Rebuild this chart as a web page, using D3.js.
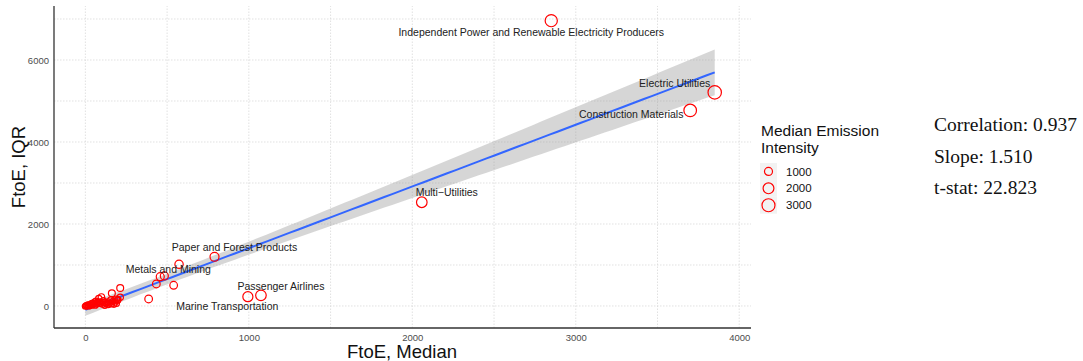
<!DOCTYPE html>
<html>
<head>
  <script src="https://d3js.org/d3.v7.min.js"></script>
  <style>
    body { margin: 0; background: #fff; }
    svg { display: block; font-family: "Liberation Sans", Arial, sans-serif; }
    .grid line { stroke: #d9d9d9; stroke-width: 0.8px; stroke-dasharray: 1.5 1.5; }
    .axis text { font-size: 9.5px; fill: #4d4d4d; }
    .axis path { stroke: #333; stroke-width: 1.3px; }
    .axis line { display: none; }
    .lab { font-size: 10.5px; fill: #222; text-anchor: middle; }
    .stat { font-family: "Liberation Serif", "DejaVu Serif", serif; font-size: 19.5px; fill: #111; }
  </style>
</head>
<body>
  <script>
    // FtoE median (x), FtoE IQR (y), median emission intensity (size)
    var ftoeMedian = [2850, 3850, 3700, 2058, 790, 573, 458, 483, 434, 540, 387, 994, 1074,
      213, 162, 213, 196, 180, 160, 139, 119, 98, 82, 58, 37, 17, 0,
      10, 25, 45, 65, 75, 90, 105, 120, 140, 150, 170, 190, 200, 30, 50, 70, 85, 110, 130, 60, 40, 20, 5, 15, 100, 155, 175, 190];
    var ftoeIQR = [6960, 5210, 4770, 2530, 1200, 1017, 715, 732, 537, 505, 171, 227, 260,
      439, 310, 210, 139, 98, 56, 32, 17, 220, 178, 98, 56, 17, -7,
      5, 30, 70, 120, 90, 60, 40, 80, 100, 70, 120, 60, 160, 10, 40, 50, 100, 130, 60, 20, 25, 0, 10, 30, 90, 150, 40, 170];
    var intensity = [2600, 3200, 2800, 1900, 1300, 1100, 1000, 1000, 900, 900, 900, 1700, 1900,
      700, 700, 600, 600, 600, 600, 500, 500, 600, 600, 500, 500, 500, 500,
      500, 500, 500, 500, 500, 500, 500, 500, 500, 500, 500, 500, 500, 500, 500, 500, 500, 500, 500, 500, 500, 500, 500, 500, 500, 500, 500, 500];

    // text labels: index into the arrays and pixel offset of the label from its point
    var labels = [
      { i: 0, name: "Independent Power and Renewable Electricity Producers", dx: -20, dy: 15 },
      { i: 1, name: "Electric Utilities", dx: -40, dy: -5 },
      { i: 2, name: "Construction Materials", dx: -59, dy: 7.5 },
      { i: 3, name: "Multi\u2212Utilities", dx: 25, dy: -6 },
      { i: 4, name: "Paper and Forest Products", dx: 20, dy: -6 },
      { i: 6, name: "Metals and Mining", dx: 8, dy: -3.4 },
      { i: 12, name: "Passenger Airlines", dx: 20, dy: -5 },
      { i: 11, name: "Marine Transportation", dx: -20.6, dy: 13.3 }
    ];

    var legendValues = [1000, 2000, 3000];
    var stats = ["Correlation: 0.937", "Slope: 1.510", "t-stat: 22.823"];
    var xTicks = [0, 1000, 2000, 3000, 4000];
    var yTicks = [0, 2000, 4000, 6000];

    var points = ftoeMedian.map(function(d, i) {
      return { x: d, y: ftoeIQR[i], s: intensity[i] };
    });

    var width = 1083, height = 361;
    var svg = d3.select("body").append("svg")
        .attr("width", width)
        .attr("height", height);

    var x = d3.scaleLinear().domain([-192, 4072]).range([54, 751]);
    var y = d3.scaleLinear().domain([-537, 7317]).range([328, 6]);
    var r = d3.scaleSqrt().domain([0, 3000]).range([0.585, 6.5]);

    // grid (major and minor look the same)
    var grid = svg.append("g").attr("class", "grid");
    grid.selectAll(".gx").data(d3.range(0, 4001, 500)).enter().append("line")
        .attr("x1", function(d) { return x(d); }).attr("x2", function(d) { return x(d); })
        .attr("y1", y.range()[0]).attr("y2", y.range()[1]);
    grid.selectAll(".gy").data(d3.range(0, 7001, 1000)).enter().append("line")
        .attr("y1", function(d) { return y(d); }).attr("y2", function(d) { return y(d); })
        .attr("x1", x.range()[0]).attr("x2", x.range()[1]);

    // linear fit with 95% band, like geom_smooth(method = "lm")
    var n = points.length;
    var xbar = d3.mean(points, function(d) { return d.x; });
    var ybar = d3.mean(points, function(d) { return d.y; });
    var sxx = d3.sum(points, function(d) { return (d.x - xbar) * (d.x - xbar); });
    var sxy = d3.sum(points, function(d) { return (d.x - xbar) * (d.y - ybar); });
    var slope = sxy / sxx, intercept = ybar - slope * xbar;
    var sse = d3.sum(points, function(d) { var e = d.y - intercept - slope * d.x; return e * e; });
    var sRes = Math.sqrt(sse / (n - 2)), tq = 1.99;
    var xmin = d3.min(ftoeMedian), xmax = d3.max(ftoeMedian);
    var fit = d3.range(0, 81).map(function(k) {
      var xv = xmin + (xmax - xmin) * k / 80;
      var se = sRes * Math.sqrt(1 / n + (xv - xbar) * (xv - xbar) / sxx);
      var yv = intercept + slope * xv;
      return { x: xv, y: yv, lo: yv - tq * se, hi: yv + tq * se };
    });

    svg.append("path").datum(fit)
        .attr("fill", "#999").attr("fill-opacity", 0.4)
        .attr("d", d3.area().x(function(d) { return x(d.x); })
          .y0(function(d) { return y(d.lo); }).y1(function(d) { return y(d.hi); }));
    svg.append("path").datum(fit)
        .attr("fill", "none").attr("stroke", "#3366FF").attr("stroke-width", 2)
        .attr("d", d3.line().x(function(d) { return x(d.x); }).y(function(d) { return y(d.y); }));

    svg.selectAll(".pt").data(points).enter().append("circle")
        .attr("class", "pt")
        .attr("cx", function(d) { return x(d.x); })
        .attr("cy", function(d) { return y(d.y); })
        .attr("r", function(d) { return r(d.s); })
        .attr("fill", "none").attr("stroke", "#ff0000").attr("stroke-width", 1.2);

    svg.selectAll(".lab").data(labels).enter().append("text")
        .attr("class", "lab")
        .attr("x", function(d) { return x(ftoeMedian[d.i]) + d.dx; })
        .attr("y", function(d) { return y(ftoeIQR[d.i]) + d.dy; })
        .text(function(d) { return d.name; });

    // axes
    var xAxis = d3.axisBottom(x).tickValues(xTicks).tickSize(0).tickPadding(6).tickFormat(d3.format("d"));
    var yAxis = d3.axisLeft(y).tickValues(yTicks).tickSize(0).tickPadding(5).tickFormat(d3.format("d"));
    svg.append("g").attr("class", "x axis")
        .attr("transform", "translate(0," + y.range()[0] + ")").call(xAxis);
    svg.append("g").attr("class", "y axis")
        .attr("transform", "translate(" + x.range()[0] + ",0)").call(yAxis);
    svg.selectAll(".axis path").attr("d", function() {
      return d3.select(this.parentNode).classed("x") ?
        "M" + x.range()[0] + ",0H" + x.range()[1] : "M0," + y.range()[0] + "V" + y.range()[1];
    });

    svg.append("text").attr("x", 402).attr("y", 358)
        .attr("text-anchor", "middle").attr("font-size", 18.5).attr("fill", "#111")
        .text("FtoE, Median");
    svg.append("text").attr("transform", "translate(25,167) rotate(-90)")
        .attr("text-anchor", "middle").attr("font-size", 18.5).attr("fill", "#111")
        .text("FtoE, IQR");

    // legend
    var lg = svg.append("g").attr("transform", "translate(760,0)");
    lg.append("text").attr("x", 1).attr("y", 136).attr("font-size", 15.5).attr("fill", "#111").text("Median Emission");
    lg.append("text").attr("x", 1).attr("y", 153).attr("font-size", 15.5).attr("fill", "#111").text("Intensity");
    var key = lg.selectAll(".key").data(legendValues).enter().append("g")
        .attr("transform", function(d, i) { return "translate(0," + (163 + i * 16.9) + ")"; });
    key.append("rect").attr("width", 17).attr("height", 16.9).attr("fill", "#f2f2f2");
    key.append("circle").attr("cx", 8.5).attr("cy", 8.45).attr("r", function(d) { return r(d); })
        .attr("fill", "none").attr("stroke", "#ff0000").attr("stroke-width", 1.2);
    key.append("text").attr("x", 26).attr("y", 12.5).attr("font-size", 11.5).attr("fill", "#111")
        .text(function(d) { return d; });

    svg.selectAll(".stat").data(stats).enter().append("text")
        .attr("class", "stat")
        .attr("x", 934)
        .attr("y", function(d, i) { return [131, 163, 194][i]; })
        .text(function(d) { return d; });
  </script>
</body>
</html>
